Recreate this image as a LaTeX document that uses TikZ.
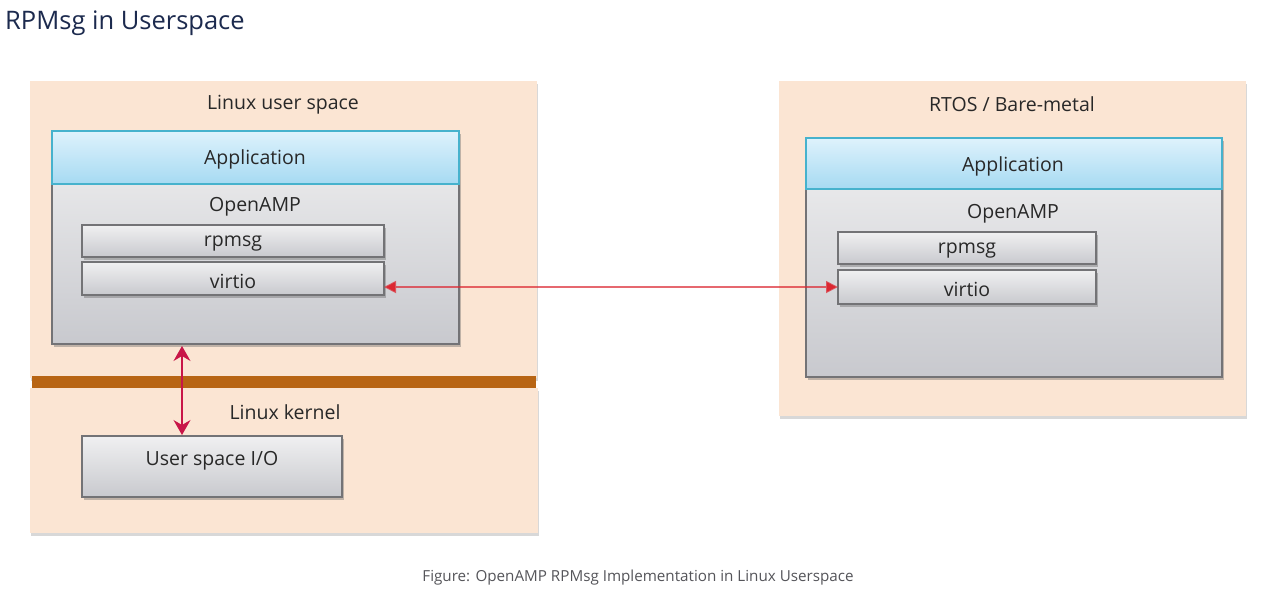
\documentclass[tikz,border=0pt]{standalone}
\usepackage{fontspec}
\setmainfont{Open Sans}
\usetikzlibrary{arrows.meta,shadows}
\definecolor{peach}{RGB}{251,229,211}
\definecolor{barc}{RGB}{184,101,20}
\definecolor{apptop}{RGB}{222,242,252}
\definecolor{appbot}{RGB}{166,218,242}
\definecolor{appline}{RGB}{70,178,205}
\definecolor{graytop}{RGB}{240,240,241}
\definecolor{graybot}{RGB}{200,201,206}
\definecolor{grayline}{RGB}{115,115,118}
\definecolor{txt}{RGB}{40,40,40}
\definecolor{crimson}{RGB}{200,22,72}
\definecolor{redline}{RGB}{220,40,50}
\definecolor{titlec}{RGB}{28,42,78}
\definecolor{capc}{RGB}{85,85,90}
\begin{document}
\begin{tikzpicture}[x=1pt,y=-1pt,
  area/.style={fill=peach, inner sep=0pt, outer sep=0pt, anchor=north west,
    drop shadow={shadow xshift=1pt, shadow yshift=-2.5pt, opacity=0.3, fill=black!50}},
  appbox/.style={draw=appline, line width=1.3pt, top color=apptop, bottom color=appbot,
    inner sep=0pt, outer sep=0pt, anchor=north west},
  graybox/.style={draw=grayline, line width=1.1pt, top color=graytop, bottom color=graybot,
    inner sep=0pt, outer sep=0pt, anchor=north west,
    drop shadow={shadow xshift=1.5pt, shadow yshift=-2.5pt, opacity=0.4, fill=black!60}},
  lbl/.style={font=\fontsize{19.5}{22}\selectfont, text=txt, inner sep=0pt, yshift=-2pt},
  vlink/.style={draw=crimson, line width=1.2pt, {Stealth[length=15pt,width=17pt,inset=5pt]}-{Stealth[length=15pt,width=17pt,inset=5pt]}},
  hlink/.style={draw=redline, draw opacity=0.7, line width=1.8pt, {Triangle[length=12pt,width=12pt]}-{Triangle[length=12pt,width=12pt]}}
]
\useasboundingbox (0,0) rectangle (1280,598);
\fill[white] (0,0) rectangle (1280,598);

\node[anchor=base west, inner sep=0pt, text=titlec, font=\fontsize{25.5}{30}\selectfont] (title) at (5,29) {RPMsg in Userspace};

% left areas
\node[area, minimum width=507, minimum height=297] (usr) at (30,81) {};
\node[area, minimum width=508, minimum height=145] (kern) at (30,388) {};
\node[fill=barc, inner sep=0pt, outer sep=0pt, anchor=north west, minimum width=504, minimum height=12] (bar) at (32,376) {};
\node[lbl] (usrlbl) at (283,103) {Linux user space};
\node[lbl] (kernlbl) at (285,410) {Linux kernel};

% left stack
\node[graybox, minimum width=407, minimum height=213] (oampL) at (52,131) {};
\node[appbox, minimum width=407, minimum height=53] (appL) at (52,131) {};
\node[lbl] (appLt) at (255,157) {Application};
\node[lbl] (oampLt) at (255,205) {OpenAMP};
\node[graybox, minimum width=302, minimum height=32] (rpL) at (82,225) {};
\node[lbl] (rpLt) at (233,242) {rpmsg};
\node[graybox, minimum width=302, minimum height=33] (viL) at (82,262) {};
\node[lbl] (viLt) at (233,279) {virtio};

\node[graybox, minimum width=260, minimum height=61] (uio) at (82,436) {};
\node[lbl] (uiot) at (212,459) {User space I/O};

% right area
\node[area, minimum width=467, minimum height=335] (rtos) at (779,81) {};
\node[lbl] (rtoslbl) at (1012,102) {RTOS / Bare-metal};
\node[graybox, minimum width=416, minimum height=239] (oampR) at (806,138) {};
\node[appbox, minimum width=416, minimum height=51] (appR) at (806,138) {};
\node[lbl] (appRt) at (1013,164) {Application};
\node[lbl] (oampRt) at (1013,212) {OpenAMP};
\node[graybox, minimum width=258, minimum height=32] (rpR) at (838,232) {};
\node[lbl] (rpRt) at (967,249) {rpmsg};
\node[graybox, minimum width=258, minimum height=34] (viR) at (838,270) {};
\node[lbl] (viRt) at (967,287) {virtio};

% connectors
\coordinate (vtop) at (182,346);
\coordinate (vbot) at (182,435);
\draw[vlink] (vtop) -- (vbot);
\draw[hlink] (viL.east |- 0,287) -- (viR.west |- 0,287);

\node[font=\fontsize{15.2}{18}\selectfont, text=capc, inner sep=0pt] (cap) at (638,578) {Figure: OpenAMP RPMsg Implementation in Linux Userspace};
\end{tikzpicture}
\end{document}
